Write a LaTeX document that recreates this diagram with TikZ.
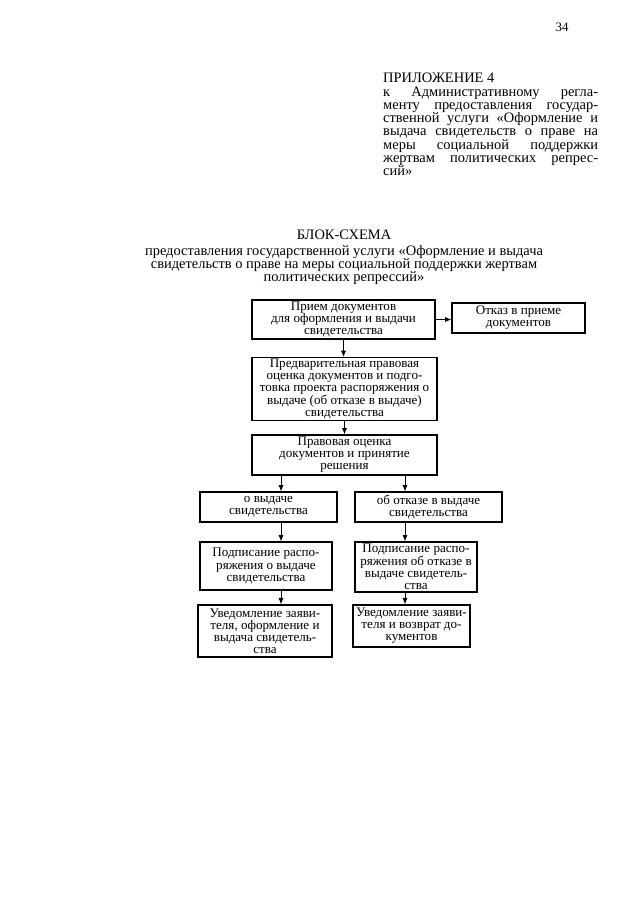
\documentclass[tikz,border=0pt]{standalone}
\usepackage{fontspec}
\setmainfont{Liberation Serif}
\usetikzlibrary{arrows.meta,positioning}
\newcommand{\blokfont}{\fontsize{12.2}{11.3}\selectfont}
\newcommand{\shapkafont}{\fontsize{13.5}{12.4}\selectfont}
\tikzset{
  >={Latex[length=2.1mm,width=1.7mm]},
  blok/.style={draw,line width=1.1pt,align=center,inner sep=1pt,font=\blokfont},
  flow/.style={->,line width=.85pt},
}

\begin{document}
\begin{tikzpicture}[x=0.328125mm,y=-0.328125mm]
  \useasboundingbox (0,0) rectangle (640,905);
  \node[font=\fontsize{12}{12}\selectfont] (nomer) at (562,27) {34};
  \node[anchor=north west,text width=70.5mm,align=justify,inner sep=0pt,font=\shapkafont] (prilozh) at (383,73)
    {ПРИЛОЖЕНИЕ 4\\
     к Административному регла-\linebreak
     менту предоставления государ-\linebreak
     ственной услуги «Оформление и\linebreak
     выдача свидетельств о праве на\linebreak
     меры социальной поддержки\linebreak
     жертвам политических репрес-\linebreak
     сий»};
  \node[inner sep=0pt,font=\shapkafont] (zagolovok) at (344,235) {БЛОК-СХЕМА};
  \node[anchor=north,align=center,inner sep=0pt,font=\shapkafont] (podzag) at (344,245)
    {предоставления государственной услуги «Оформление и выдача\\
     свидетельств о праве на меры социальной поддержки жертвам\\
     политических репрессий»};

  \node[blok,minimum width=60mm,minimum height=12.8mm] (priem) at (343.5,319.5)
    {Прием документов\\ для оформления и выдачи\\ свидетельства};
  \node[blok,minimum width=43.6mm,minimum height=9.8mm] (otkaz) at (518.5,318)
    {Отказ в приеме\\ документов};
  \node[blok,minimum width=60.7mm,minimum height=20.3mm] (predv) at (344.5,389)
    {Предварительная правовая\\ оценка документов и подго-\\ товка проекта распоряжения о\\ выдаче (об отказе в выдаче)\\ свидетельства};
  \node[blok,minimum width=60.7mm,minimum height=13.1mm] (ocenka) at (344.5,455)
    {Правовая оценка\\ документов и принятие\\ решения};
  \node[blok,minimum width=45mm,minimum height=9.8mm] (vydacha) at (268.5,507)
    {о выдаче\\ свидетельства};
  \node[blok,minimum width=48.2mm,minimum height=9.8mm] (otkazv) at (428.5,507)
    {об отказе в выдаче\\ свидетельства};
  \node[blok,minimum width=43.3mm,minimum height=15.75mm] (podpL) at (266,566)
    {Подписание распо-\\ ряжения о выдаче\\ свидетельства};
  \node[blok,minimum width=40mm,minimum height=16.4mm] (podpR) at (416,567)
    {Подписание распо-\\ ряжения об отказе в\\ выдаче свидетель-\\ ства};
  \node[blok,minimum width=44mm,minimum height=17.1mm] (uvedL) at (265,631)
    {Уведомление заяви-\\ теля, оформление и\\ выдача свидетель-\\ ства};
  \node[blok,minimum width=38.4mm,minimum height=13.8mm] (uvedR) at (411.5,626)
    {Уведомление заяви-\\ теля и возврат до-\\ кументов};

  \coordinate (levo) at (281,0);
  \coordinate (pravo) at (405,0);
  \draw[flow] (priem.east) -- (priem.east -| otkaz.west);
  \draw[flow] (priem.south) -- (priem.south |- predv.north);
  \draw[flow] (predv.south) -- (predv.south |- ocenka.north);
  \draw[flow] (ocenka.south -| levo) -- (vydacha.north -| levo);
  \draw[flow] (ocenka.south -| pravo) -- (otkazv.north -| pravo);
  \draw[flow] (vydacha.south -| levo) -- (podpL.north -| levo);
  \draw[flow] (podpL.south -| levo) -- (uvedL.north -| levo);
  \draw[flow] (otkazv.south -| pravo) -- (podpR.north -| pravo);
  \draw[flow] (podpR.south -| pravo) -- (uvedR.north -| pravo);
\end{tikzpicture}
\end{document}
